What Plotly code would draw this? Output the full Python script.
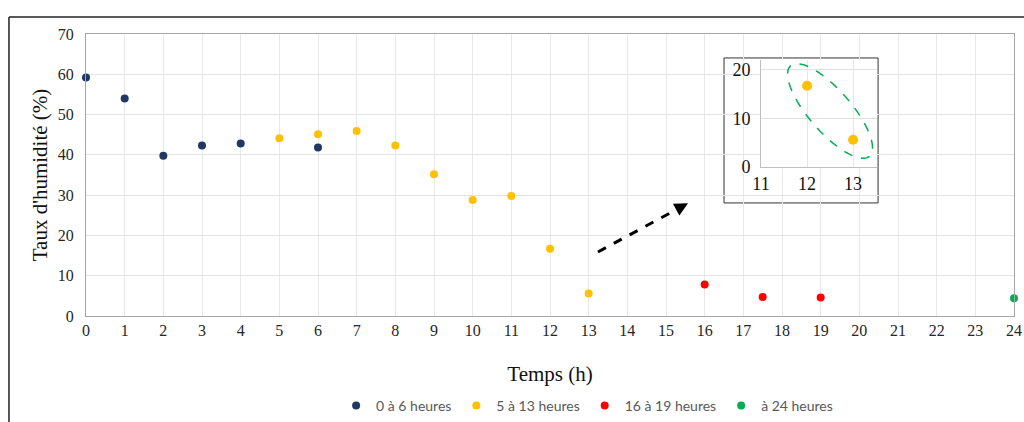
import numpy as np
import plotly.graph_objects as go

# ---- data ----
s1_name = "0 à 6 heures"
s1_x = [0, 1, 2, 3, 4, 6]
s1_y = [59.2, 54.0, 39.8, 42.3, 42.8, 41.8]

s2_name = "5 à 13 heures"
s2_x = [5, 6, 7, 8, 9, 10, 11, 12, 13]
s2_y = [44.1, 45.1, 45.9, 42.3, 35.2, 28.8, 29.8, 16.7, 5.6]

s3_name = "16 à 19 heures"
s3_x = [16, 17.5, 19]
s3_y = [7.8, 4.7, 4.6]

s4_name = "à 24 heures"
s4_x = [24]
s4_y = [4.4]

inset_x = [12, 13]
inset_y = [16.7, 5.6]

x_ticks = list(range(0, 25))
y_ticks = [0, 10, 20, 30, 40, 50, 60, 70]
inset_xticks = [11, 12, 13]
inset_yticks = [0, 10, 20]

NAVY, GOLD, RED, GREEN = "#1F3864", "#FFC000", "#FF0000", "#00B050"
SERIF = "Liberation Serif"

fig = go.Figure()
for name, xs, ys, c in [(s1_name, s1_x, s1_y, NAVY), (s2_name, s2_x, s2_y, GOLD),
                        (s3_name, s3_x, s3_y, RED), (s4_name, s4_x, s4_y, GREEN)]:
    fig.add_trace(go.Scatter(x=xs, y=ys, mode="markers", name=name,
                             marker=dict(color=c, size=8), cliponaxis=False))

fig.add_trace(go.Scatter(x=inset_x, y=inset_y, mode="markers", showlegend=False,
                         marker=dict(color=GOLD, size=10), xaxis="x2", yaxis="y2"))

fig.update_layout(
    width=1024, height=422,
    margin=dict(l=86, r=10, t=34, b=106, autoexpand=False),
    paper_bgcolor="white", plot_bgcolor="white",
    xaxis=dict(range=[0, 24], tickvals=x_ticks, showgrid=True, gridcolor="#E8E8E8",
               showline=True, linecolor="#A6A6A6", mirror=True, ticks="", automargin=False,
               tickfont=dict(family=SERIF, size=16, color="#262626"), zeroline=False,
               title=dict(text="Temps (h)", font=dict(family=SERIF, size=21, color="#111"), standoff=28),
               domain=[0, 1]),
    yaxis=dict(range=[0, 70], tickvals=y_ticks, showgrid=True, gridcolor="#E3E3E3",
               showline=True, linecolor="#A6A6A6", mirror=True, ticks="", automargin=False,
               tickfont=dict(family=SERIF, size=16, color="#262626"), zeroline=False,
               ticklabelstandoff=8,
               title=dict(text="Taux d'humidité (%)", font=dict(family=SERIF, size=21, color="#111"), standoff=4)),
    xaxis2=dict(domain=[0.7274, 0.8524], anchor="y2", range=[11, 13.52], tickvals=inset_xticks,
                showgrid=True, gridcolor="#E6E6E6", showline=True, linecolor="#BFBFBF", ticks="",
                tickfont=dict(family=SERIF, size=18, color="#111"), zeroline=False, automargin=False),
    yaxis2=dict(domain=[0.5284, 0.9078], anchor="x2", range=[0, 22], tickvals=inset_yticks,
                showgrid=True, gridcolor="#E0E0E0", showline=True, linecolor="#BFBFBF", ticks="",
                ticklabelstandoff=6,
                tickfont=dict(family=SERIF, size=18, color="#111"), zeroline=False, automargin=False),
    legend=dict(orientation="h", x=0.54, xanchor="center", y=-0.319, yanchor="middle",
                font=dict(family="Lato", size=14, color="#595959"),
                itemwidth=30, tracegroupgap=0),
    showlegend=True,
)

# inset box (white, drawn in inset subplot layer, unclipped)
fig.add_shape(type="rect", xref="x2 domain", yref="y2 domain",
              x0=-0.319, x1=1.009, y0=-0.336, y1=1.019,
              fillcolor="white", line=dict(color="#333333", width=1), layer="below")

# dashed ellipse around inset points
a, b, th = 60.0, 21.0, np.deg2rad(49)
cx, cy = 830.0, 111.0
t = np.linspace(0, 2 * np.pi, 80)
px = cx + a * np.cos(t) * np.cos(th) - b * np.sin(t) * np.sin(th)
py = cy + a * np.cos(t) * np.sin(th) + b * np.sin(t) * np.cos(th)
ex = 11 + (px - 761) / 46.0
ey = (167 - py) / 4.864
path = "M " + " L ".join(f"{x:.4f},{y:.4f}" for x, y in zip(ex, ey)) + " Z"
fig.add_shape(type="path", path=path, xref="x2", yref="y2",
              line=dict(color=GREEN, width=1.5, dash="dash"), layer="above")

# dashed arrow
fig.add_shape(type="line", xref="x", yref="y", x0=13.24, y0=15.9, x1=15.4, y1=27.1,
              line=dict(color="black", width=3, dash="dash"))
fig.add_annotation(x=15.57, y=28.0, ax=15.3, ay=26.6, xref="x", yref="y", axref="x", ayref="y",
                   text="", showarrow=True, arrowhead=2, arrowsize=0.9, arrowwidth=3, arrowcolor="black")

# outer frame lines (cropped screenshot border)
fig.add_shape(type="line", xref="paper", yref="paper", x0=-0.083, x1=1.02, y0=1.0603, y1=1.0603,
              line=dict(color="#222222", width=1.5))
fig.add_shape(type="line", xref="paper", yref="paper", x0=-0.083, x1=-0.083, y0=-0.4, y1=1.0603,
              line=dict(color="#222222", width=1.5))

fig.write_html("out.html", config={"displayModeBar": False},
               post_script="document.body.style.margin='0';document.body.style.overflow='hidden';")
